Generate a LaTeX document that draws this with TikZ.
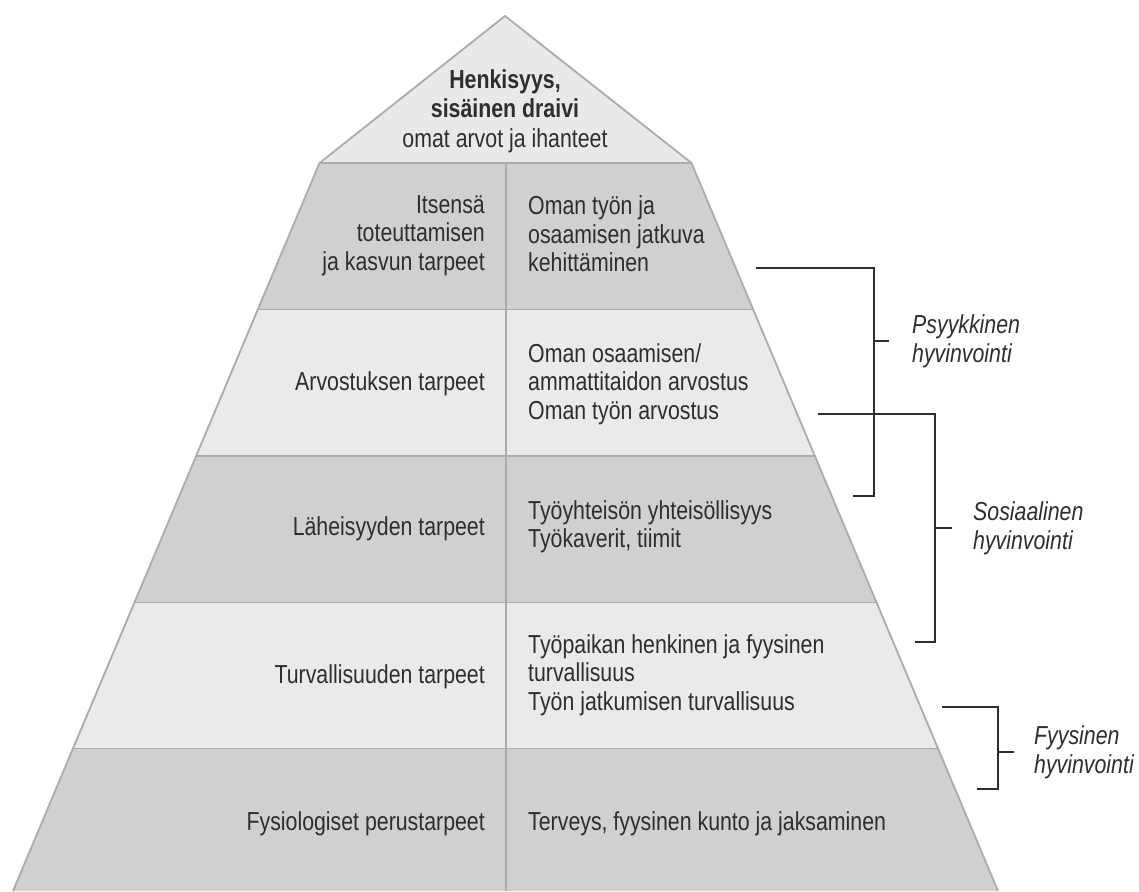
\documentclass[tikz,border=0pt]{standalone}
\usepackage{fontspec}
\setmainfont{Liberation Sans}[FakeStretch=0.82]
\definecolor{ink}{HTML}{2E2E2E}
\definecolor{rim}{HTML}{ABABAD}
\definecolor{darkband}{HTML}{CFD0D2}
\definecolor{lightband}{HTML}{EAEAEC}
\definecolor{roof}{HTML}{E9E9EB}
\begin{document}
\begin{tikzpicture}[x=1pt,y=-1pt,
  txt/.style={text=ink, inner sep=0pt, font=\fontsize{26}{28.5}\selectfont},
  lefttxt/.style={txt, anchor=east, align=right},
  righttxt/.style={txt, anchor=west, align=left},
  grp/.style={txt, anchor=west, align=left, font=\fontsize{26}{29}\selectfont\itshape},
  rimline/.style={draw=rim, line width=1.8pt},
  brace/.style={draw=ink, line width=2.2pt, line cap=butt, line join=miter},
]
\useasboundingbox (0,0) rectangle (1139,891);
\fill[white] (0,0) rectangle (1139,891);

% pyramid bands, top to bottom
\fill[darkband]  (319.5,163)   -- (691.5,163)   -- (753.2,309.5) -- (257.8,309.5) -- cycle;
\fill[lightband] (257.8,309.5) -- (753.2,309.5) -- (814.9,456)   -- (196.1,456)   -- cycle;
\fill[darkband]  (196.1,456)   -- (814.9,456)   -- (876.5,602.5) -- (134.5,602.5) -- cycle;
\fill[lightband] (134.5,602.5) -- (876.5,602.5) -- (938,748.5)   -- (73,748.5)    -- cycle;
\fill[darkband]  (73,748.5)    -- (938,748.5)   -- (998,891)     -- (13,891)      -- cycle;
\fill[roof] (505,16) -- (691.5,163) -- (319.5,163) -- cycle;

% outlines and separators
\draw[rimline] (319.5,163) -- (505,16) -- (691.5,163);
\draw[rimline] (319.5,163) -- (13,891);
\draw[rimline] (691.5,163) -- (998,891);
\draw[rimline] (319.5,163) -- (691.5,163);
\draw[rimline] (257.8,309.5) -- (753.2,309.5);
\draw[rimline] (196.1,456) -- (814.9,456);
\draw[rimline] (134.5,602.5) -- (876.5,602.5);
\draw[rimline] (73,748.5) -- (938,748.5);
\draw[rimline] (506,163) -- (506,891);

% roof text
\node[txt, align=center, font=\fontsize{26}{29.5}\selectfont] (spirit) at (505,111)
  {\textbf{Henkisyys,}\\\textbf{sisäinen draivi}\\omat arvot ja ihanteet};

% needs (left column)
\node[lefttxt] (need1) at (485,235.5) {Itsensä\\toteuttamisen\\ja kasvun tarpeet};
\node[lefttxt] (need2) at (485,384) {Arvostuksen tarpeet};
\node[lefttxt] (need3) at (485,528.5) {Läheisyyden tarpeet};
\node[lefttxt] (need4) at (485,677) {Turvallisuuden tarpeet};
\node[lefttxt] (need5) at (485,824) {Fysiologiset perustarpeet};

% work-life counterparts (right column)
\node[righttxt] (work1) at (528,234) {Oman työn ja\\osaamisen jatkuva\\kehittäminen};
\node[righttxt] (work2) at (528,384) {Oman osaamisen/\\ammattitaidon arvostus\\Oman työn arvostus};
\node[righttxt] (work3) at (528,527) {Työyhteisön yhteisöllisyys\\Työkaverit, tiimit};
\node[righttxt] (work4) at (528,675) {Työpaikan henkinen ja fyysinen\\turvallisuus\\Työn jatkumisen turvallisuus};
\node[righttxt] (work5) at (528,824) {Terveys, fyysinen kunto ja jaksaminen};

% wellbeing groups
\node[grp] (psy) at (912,341) {Psyykkinen\\hyvinvointi};
\node[grp] (soc) at (973,528) {Sosiaalinen\\hyvinvointi};
\node[grp] (phy) at (1034,752) {Fyysinen\\hyvinvointi};

% brackets
\coordinate (psyA) at (756,268);
\coordinate (psyB) at (874,268);
\coordinate (psyC) at (874,496);
\coordinate (psyD) at (853,496);
\coordinate (psyM) at (874,341);
\coordinate (psyT) at (889,341);
\draw[brace] (psyA) -- (psyB) -- (psyC) -- (psyD);
\draw[brace] (psyM) -- (psyT);

\coordinate (socA) at (818,414);
\coordinate (socB) at (935,414);
\coordinate (socC) at (935,642);
\coordinate (socD) at (915,642);
\coordinate (socM) at (935,528);
\coordinate (socT) at (952,528);
\draw[brace] (socA) -- (socB) -- (socC) -- (socD);
\draw[brace] (socM) -- (socT);

\coordinate (phyA) at (942,707);
\coordinate (phyB) at (998,707);
\coordinate (phyC) at (998,789);
\coordinate (phyD) at (977,789);
\coordinate (phyM) at (998,752);
\coordinate (phyT) at (1014,752);
\draw[brace] (phyA) -- (phyB) -- (phyC) -- (phyD);
\draw[brace] (phyM) -- (phyT);
\end{tikzpicture}
\end{document}
